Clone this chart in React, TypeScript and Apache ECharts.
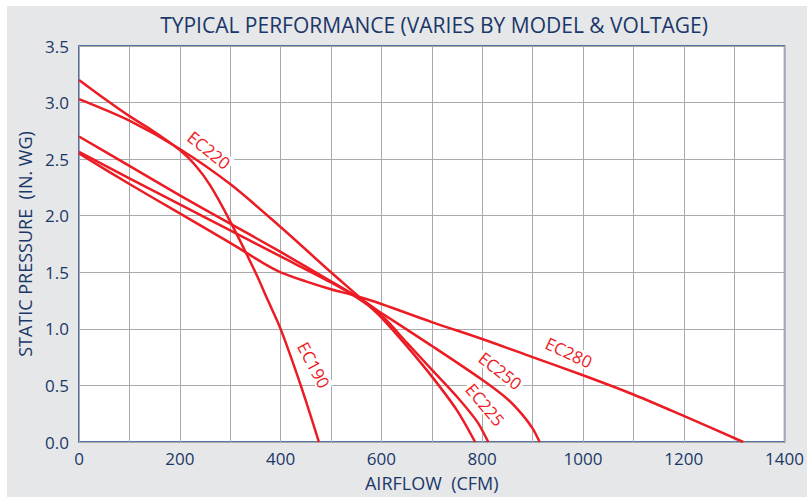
import React, { useEffect, useRef } from "react";
import * as echarts from "echarts";

const titleText = "TYPICAL PERFORMANCE (VARIES BY MODEL & VOLTAGE)";
const xAxisName = "AIRFLOW  (CFM)";
const yAxisName = "STATIC PRESSURE  (IN. WG)";

// [airflow CFM, static pressure in. WG]
const ec190: number[][] = [[0, 3.2], [55, 3.02], [100, 2.88], [150, 2.74], [200, 2.58], [230, 2.45], [260, 2.27], [300, 1.95], [350, 1.5], [375, 1.25], [400, 1.0], [440, 0.5], [476, 0]];
const ec220: number[][] = [[0, 3.03], [100, 2.84], [200, 2.59], [300, 2.28], [400, 1.9], [500, 1.5], [564, 1.25], [600, 1.1], [650, 0.85], [700, 0.58], [750, 0.28], [786, 0]];
const ec225: number[][] = [[0, 2.565], [100, 2.33], [200, 2.1], [300, 1.87], [400, 1.64], [500, 1.41], [550, 1.28], [600, 1.12], [650, 0.88], [700, 0.64], [750, 0.4], [790, 0.18], [812, 0]];
const ec250: number[][] = [[0, 2.7], [100, 2.44], [200, 2.18], [300, 1.93], [400, 1.68], [500, 1.42], [564, 1.25], [600, 1.14], [700, 0.85], [800, 0.55], [850, 0.38], [880, 0.24], [900, 0.12], [914, 0]];
const ec280: number[][] = [[0, 2.55], [100, 2.28], [200, 2.02], [300, 1.76], [370, 1.57], [400, 1.5], [450, 1.42], [500, 1.35], [550, 1.29], [600, 1.22], [700, 1.06], [800, 0.91], [900, 0.75], [1000, 0.59], [1100, 0.42], [1200, 0.23], [1318, 0]];

const seriesNames = ["EC190", "EC220", "EC225", "EC250", "EC280"];
const seriesData = [ec190, ec220, ec225, ec250, ec280];
// label anchor in data coords and angle (deg, clockwise)
const labelAnchors: number[][] = [[466, 0.68], [258, 2.58], [806, 0.33], [836, 0.63], [972, 0.79]];
const labelAngles = [62, 39, 50, 38, 25];

const NAVY = "#1b3768";
const RED = "#ec1c24";
const FONT = "'Open Sans', 'Noto Sans', sans-serif";

export default function App() {
  const ref = useRef<HTMLDivElement>(null);
  useEffect(() => {
    if (!ref.current) return;
    const chart = echarts.init(ref.current, undefined, { renderer: "svg" });
    chart.setOption({
      animation: false,
      backgroundColor: "transparent",
      grid: { left: 79, top: 46, right: 14, bottom: 55, show: true, backgroundColor: "#ffffff", borderColor: "#1f4b8a", borderWidth: 1.5 },
      xAxis: {
        type: "value", min: 0, max: 1400, interval: 100,
        name: xAxisName, nameLocation: "middle", nameGap: 32,
        nameTextStyle: { color: NAVY, fontSize: 18, fontFamily: FONT },
        axisLine: { show: false }, axisTick: { show: false },
        axisLabel: { color: NAVY, fontSize: 17, fontFamily: FONT, margin: 8, formatter: (v: number) => (v % 200 === 0 ? String(v) : "") },
        splitLine: { lineStyle: { color: "#a7a9ac", width: 1 } },
      },
      yAxis: {
        type: "value", min: 0, max: 3.5, interval: 0.5,
        name: yAxisName, nameLocation: "middle", nameGap: 42,
        nameTextStyle: { color: NAVY, fontSize: 18, fontFamily: FONT },
        axisLine: { show: false }, axisTick: { show: false },
        axisLabel: { color: NAVY, fontSize: 17, fontFamily: FONT, margin: 10, formatter: (v: number) => v.toFixed(1) },
        splitLine: { lineStyle: { color: "#a7a9ac", width: 1 } },
      },
      series: seriesData.map((d, i) => ({
        type: "line", name: seriesNames[i], data: d, showSymbol: false, smooth: 0.3,
        lineStyle: { color: RED, width: 2.5 }, z: 3,
      })),
    });
    const labels = seriesNames.map((n, i) => {
      const p = chart.convertToPixel({ gridIndex: 0 }, labelAnchors[i]) as number[];
      return {
        type: "text", x: p[0], y: p[1], rotation: (-labelAngles[i] * Math.PI) / 180, z: 1,
        style: { text: n, fill: RED, fontSize: 17, fontFamily: FONT, align: "center", verticalAlign: "middle", backgroundColor: "#fff", padding: [0, 2] },
      };
    });
    chart.setOption({
      graphic: [
        { type: "text", x: 434, y: 25, z: 10, style: { text: titleText, fill: NAVY, fontSize: 21, fontFamily: FONT, align: "center", verticalAlign: "middle" } },
        ...labels,
      ],
    });
    return () => chart.dispose();
  }, []);
  return (
    <div style={{ position: "absolute", left: 0, top: 0, width: 807, height: 497, background: "#fff" }}>
      <div style={{ position: "absolute", left: 7, top: 6, width: 800, height: 491, background: "#e6e7e9" }} />
      <div ref={ref} style={{ position: "absolute", left: 0, top: 0, width: 807, height: 497 }} />
    </div>
  );
}
